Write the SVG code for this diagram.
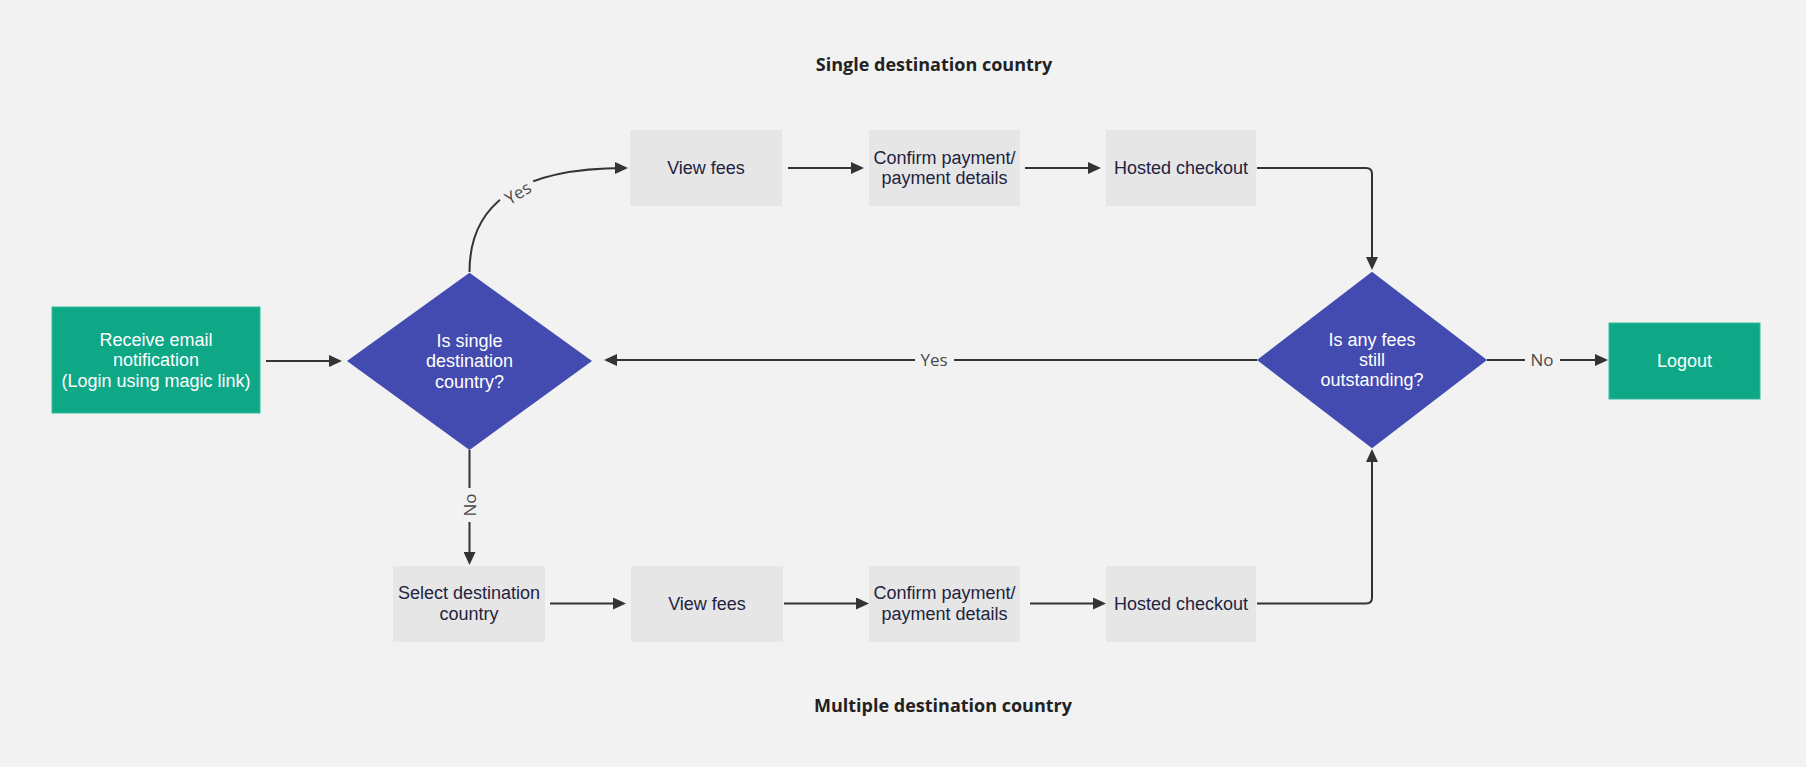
<svg xmlns="http://www.w3.org/2000/svg" width="1806" height="767" viewBox="0 0 1806 767">
<style>
.bg{fill:#f2f2f2}
.term{fill:#0ea887;stroke:#33bb9b;stroke-width:1}
.dec{fill:#434bb0}
.proc{fill:#e6e6e6}
.wt{font-family:"Liberation Sans",Arial,sans-serif;font-size:18px;fill:#ffffff;text-anchor:middle}
.pt{font-family:"Liberation Sans",Arial,sans-serif;font-size:18px;fill:#23233f;text-anchor:middle}
.title{font-family:"Open Sans","Noto Sans",sans-serif;font-size:18px;font-weight:700;fill:#222222;text-anchor:middle}
.conn{fill:none;stroke:#333333;stroke-width:2}
.lbl{font-family:"Open Sans","Noto Sans",sans-serif;font-size:17px;fill:#4a4a4a;text-anchor:middle}
.lblbg{fill:#f2f2f2}
</style>
<defs>
<marker id="arr" viewBox="0 0 13 12" refX="10" refY="6" markerWidth="13" markerHeight="12" markerUnits="userSpaceOnUse" orient="auto">
<path d="M0,0 L13,6 L0,12 z" fill="#333333"/>
</marker>
</defs>
<rect class="bg" x="0" y="0" width="1806" height="767"/>

<text class="title" x="934" y="71">Single destination country</text>
<text class="title" x="943" y="712">Multiple destination country</text>

<g id="connectors">
<path class="conn" d="M266,361 L339,361" marker-end="url(#arr)"/>
<path class="conn" d="M469.5,272 C469.5,208 512,168 625,168" marker-end="url(#arr)"/>
<path class="conn" d="M788,168 L861,168" marker-end="url(#arr)"/>
<path class="conn" d="M1025,168 L1098,168" marker-end="url(#arr)"/>
<path class="conn" d="M1257,168 L1366,168 Q1372,168 1372,174 L1372,267" marker-end="url(#arr)"/>
<path class="conn" d="M1257,360 L607,360" marker-end="url(#arr)"/>
<path class="conn" d="M1487,360 L1605,360" marker-end="url(#arr)"/>
<path class="conn" d="M469.5,450 L469.5,562" marker-end="url(#arr)"/>
<path class="conn" d="M550,603.5 L623,603.5" marker-end="url(#arr)"/>
<path class="conn" d="M784,603.5 L866,603.5" marker-end="url(#arr)"/>
<path class="conn" d="M1030,603.5 L1103,603.5" marker-end="url(#arr)"/>
<path class="conn" d="M1257,603.5 L1366,603.5 Q1372,603.5 1372,597.5 L1372,452" marker-end="url(#arr)"/>
<g transform="translate(518,193) rotate(-31)">
<rect class="lblbg" x="-19" y="-11" width="38" height="22"/>
<text class="lbl" x="0" y="6">Yes</text>
</g>
<rect class="lblbg" x="915" y="349" width="39" height="22"/>
<text class="lbl" x="934" y="366">Yes</text>
<rect class="lblbg" x="1525" y="349" width="35" height="22"/>
<text class="lbl" x="1542" y="366">No</text>
<g transform="translate(469.5,505) rotate(-90)">
<rect class="lblbg" x="-17" y="-11" width="34" height="22"/>
<text class="lbl" x="0" y="6">No</text>
</g>
</g>

<g id="receive">
<rect class="term" x="52" y="307" width="208" height="106"/>
<text class="wt" x="156" y="345.5">Receive email</text>
<text class="wt" x="156" y="366">notification</text>
<text class="wt" x="156" y="386.5">(Login using magic link)</text>
</g>
<g id="decision-single">
<polygon class="dec" points="469.5,272.7 592,361 469.5,450 347,361"/>
<text class="wt" x="469.5" y="346.5">Is single</text>
<text class="wt" x="469.5" y="367">destination</text>
<text class="wt" x="469.5" y="387.5">country?</text>
</g>
<g id="view-fees-1">
<rect class="proc" x="630" y="130" width="152" height="76"/>
<text class="pt" x="706" y="174.3">View fees</text>
</g>
<g id="confirm-1">
<rect class="proc" x="869" y="130" width="151" height="76"/>
<text class="pt" x="944.5" y="164">Confirm payment/</text>
<text class="pt" x="944.5" y="184">payment details</text>
</g>
<g id="hosted-1">
<rect class="proc" x="1106" y="130" width="150" height="76"/>
<text class="pt" x="1181" y="174.3">Hosted checkout</text>
</g>
<g id="decision-outstanding">
<polygon class="dec" points="1372,271.7 1487,360 1372,448.3 1257,360"/>
<text class="wt" x="1372" y="345.6">Is any fees</text>
<text class="wt" x="1372" y="366.3">still</text>
<text class="wt" x="1372" y="386.3">outstanding?</text>
</g>
<g id="logout">
<rect class="term" x="1609" y="323" width="151" height="76"/>
<text class="wt" x="1684.5" y="366.5">Logout</text>
</g>
<g id="select-country">
<rect class="proc" x="393" y="566" width="152" height="76"/>
<text class="pt" x="469" y="599">Select destination</text>
<text class="pt" x="469" y="619.5">country</text>
</g>
<g id="view-fees-2">
<rect class="proc" x="631" y="566" width="152" height="76"/>
<text class="pt" x="707" y="609.5">View fees</text>
</g>
<g id="confirm-2">
<rect class="proc" x="869" y="566" width="151" height="76"/>
<text class="pt" x="944.5" y="599">Confirm payment/</text>
<text class="pt" x="944.5" y="619.5">payment details</text>
</g>
<g id="hosted-2">
<rect class="proc" x="1106" y="566" width="150" height="76"/>
<text class="pt" x="1181" y="609.5">Hosted checkout</text>
</g>
</svg>
